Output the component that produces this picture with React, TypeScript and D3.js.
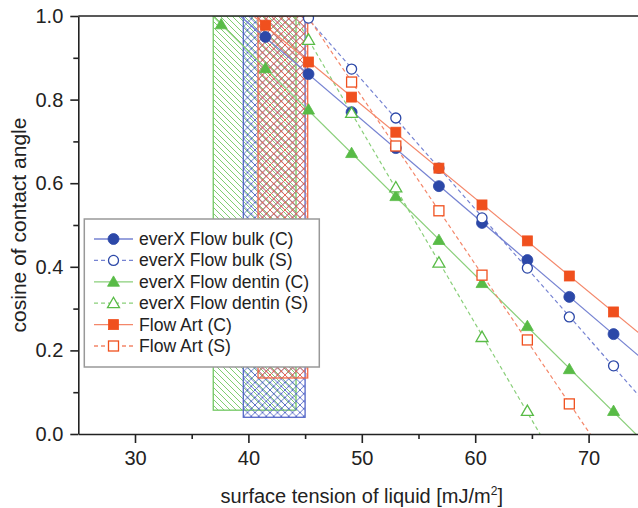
import React, { useRef, useEffect } from 'react';
import * as d3 from 'd3';

// surface tension of the test liquids (x positions of the points)
const X_VALUES = [37.6, 41.5, 45.3, 49.1, 53.0, 56.8, 60.6, 64.6, 68.3, 72.2];

// cosine values, null where no point is shown
const BULK_C = [null, 0.95, 0.861, 0.77, 0.684, 0.593, 0.505, 0.416, 0.328, 0.239];
const BULK_S = [null, null, 0.995, 0.873, 0.756, 0.636, 0.517, 0.397, 0.28, 0.163];
const DENTIN_C = [0.98, 0.875, 0.776, 0.672, 0.569, 0.464, 0.361, 0.258, 0.155, 0.055];
const DENTIN_S = [null, null, 0.943, 0.768, 0.59, 0.41, 0.232, 0.055, null, null];
const ART_C = [null, 0.978, 0.89, 0.806, 0.722, 0.636, 0.548, 0.462, 0.378, 0.292];
const ART_S = [null, null, null, 0.842, 0.689, 0.534, 0.38, 0.225, 0.072, null];

// hatched critical surface tension bands: dentin, bulk, art
const BAND_NAMES = ["dentin", "bulk", "art"];
const BAND_X0 = [36.9, 39.55, 40.85];
const BAND_X1 = [44.2, 45.0, 45.23];
const BAND_BOTTOM = [0.057, 0.04, 0.134];

const X_TICKS = [30, 40, 50, 60, 70];
const X_MINOR = [35, 45, 55, 65];
const Y_TICKS = [0, 0.2, 0.4, 0.6, 0.8, 1.0];
const Y_MINOR = [0.1, 0.3, 0.5, 0.7, 0.9];

const LEGEND_LABELS = [
    "everX Flow bulk (C)",
    "everX Flow bulk (S)",
    "everX Flow dentin (C)",
    "everX Flow dentin (S)",
    "Flow Art (C)",
    "Flow Art (S)"
];

const COLORS = {
    bulk: { mark: "#2c48a8", line: "#7683d2", hatch: "#5467c8" },
    dentin: { mark: "#58bb46", line: "#8acf7a", hatch: "#72c862" },
    art: { mark: "#f0501e", line: "#f4876a", hatch: "#f26a48" }
};

const SERIES = [
    { values: BULK_C, key: "bulk", shape: "circle", filled: true },
    { values: BULK_S, key: "bulk", shape: "circle", filled: false },
    { values: DENTIN_C, key: "dentin", shape: "triangle", filled: true },
    { values: DENTIN_S, key: "dentin", shape: "triangle", filled: false },
    { values: ART_C, key: "art", shape: "square", filled: true },
    { values: ART_S, key: "art", shape: "square", filled: false }
];

const FONT = '"Liberation Sans", Arial, sans-serif';

function linearFit(pts) {
    const mx = d3.mean(pts, d => d[0]);
    const my = d3.mean(pts, d => d[1]);
    const sxy = d3.sum(pts, d => (d[0] - mx) * (d[1] - my));
    const sxx = d3.sum(pts, d => (d[0] - mx) * (d[0] - mx));
    const slope = sxy / sxx;
    return { slope, intercept: my - slope * mx };
}

function App() {
    const svgRef = useRef(null);
    const width = 638;
    const height = 508;
    const margin = { top: 16, left: 78.3, bottom: 74 };
    const plotRight = 78.3 + 50 * 11.34;

    useEffect(() => {
        const svg = d3.select(svgRef.current);
        svg.selectAll("*").remove();

        const x = d3.scaleLinear().domain([25, 75]).range([margin.left, plotRight]);
        const y = d3.scaleLinear().domain([0, 1]).range([height - margin.bottom, margin.top]);

        const defs = svg.append("defs");
        defs.append("clipPath").attr("id", "plot-clip")
            .append("rect")
            .attr("x", x(25)).attr("y", y(1))
            .attr("width", x(75) - x(25)).attr("height", y(0) - y(1));

        // hatch patterns
        const hatch = (id, color, cross, s) => {
            const p = defs.append("pattern").attr("id", id)
                .attr("patternUnits", "userSpaceOnUse")
                .attr("width", s).attr("height", s);
            p.append("path").attr("d", `M0,0L${s},${s}M-1,${s - 1}L1,${s + 1}M${s - 1},-1L${s + 1},1`)
                .attr("stroke", color).attr("stroke-width", 0.9);
            if (cross) {
                p.append("path").attr("d", `M0,${s}L${s},0M-1,1L1,-1M${s - 1},${s + 1}L${s + 1},${s - 1}`)
                    .attr("stroke", color).attr("stroke-width", 0.9);
            }
        };
        hatch("hatch-dentin", COLORS.dentin.hatch, false, 6);
        hatch("hatch-bulk", COLORS.bulk.hatch, true, 7.5);
        hatch("hatch-art", COLORS.art.hatch, true, 7.5);

        const plot = svg.append("g").attr("clip-path", "url(#plot-clip)");

        BAND_NAMES.forEach((name, i) => {
            plot.append("rect")
                .attr("x", x(BAND_X0[i]))
                .attr("y", y(1))
                .attr("width", x(BAND_X1[i]) - x(BAND_X0[i]))
                .attr("height", y(BAND_BOTTOM[i]) - y(1))
                .attr("fill", `url(#hatch-${name})`)
                .attr("stroke", COLORS[name].hatch)
                .attr("stroke-width", 1.3);
        });

        // fitted lines
        SERIES.forEach(s => {
            const pts = X_VALUES.map((xv, i) => [xv, s.values[i]]).filter(d => d[1] !== null);
            const fit = linearFit(pts);
            const x0 = (1 - fit.intercept) / fit.slope;
            const x1 = 76;
            plot.append("line")
                .attr("x1", x(x0)).attr("y1", y(fit.slope * x0 + fit.intercept))
                .attr("x2", x(x1)).attr("y2", y(fit.slope * x1 + fit.intercept))
                .attr("stroke", COLORS[s.key].line)
                .attr("stroke-width", 1.2)
                .attr("stroke-dasharray", s.filled ? null : "4,3");
        });

        const drawMarker = (g, s, cx, cy) => {
            const c = COLORS[s.key].mark;
            const fill = s.filled ? c : "white";
            let el;
            if (s.shape === "circle") {
                el = g.append("circle").attr("cx", cx).attr("cy", cy).attr("r", s.filled ? 5.5 : 5);
            } else if (s.shape === "triangle") {
                el = g.append("path").attr("d", d3.symbol(d3.symbolTriangle, 62)()).attr("transform", `translate(${cx},${cy + 1})`);
            } else {
                el = g.append("rect").attr("x", cx - 5).attr("y", cy - 5).attr("width", 10).attr("height", 10);
            }
            el.attr("fill", fill).attr("stroke", c).attr("stroke-width", s.filled ? 0.8 : 1.3);
        };

        SERIES.forEach(s => {
            X_VALUES.forEach((xv, i) => {
                if (s.values[i] === null) return;
                drawMarker(plot, s, x(xv), y(s.values[i]));
            });
        });

        // axes
        const axisColor = "#222";
        const xAxis = svg.append("g").attr("transform", `translate(0,${y(0)})`)
            .call(d3.axisBottom(x).tickValues(X_TICKS).tickSize(9).tickPadding(8).tickSizeOuter(0));
        svg.append("g").attr("transform", `translate(0,${y(0)})`)
            .call(d3.axisBottom(x).tickValues(X_MINOR).tickSize(5).tickFormat(() => "").tickSizeOuter(0))
            .select(".domain").remove();
        const yAxis = svg.append("g").attr("transform", `translate(${x(25)},0)`)
            .call(d3.axisLeft(y).tickValues(Y_TICKS).tickSize(8).tickPadding(7).tickSizeOuter(0).tickFormat(d3.format(".1f")));
        svg.append("g").attr("transform", `translate(${x(25)},0)`)
            .call(d3.axisLeft(y).tickValues(Y_MINOR).tickSize(5).tickFormat(() => "").tickSizeOuter(0))
            .select(".domain").remove();
        svg.append("line")
            .attr("x1", x(25)).attr("x2", x(75)).attr("y1", y(1)).attr("y2", y(1))
            .attr("stroke", axisColor).attr("stroke-width", 1.6);

        svg.selectAll(".tick line, .domain").attr("stroke", axisColor).attr("stroke-width", 1.6);
        [xAxis, yAxis].forEach(a => a.selectAll("text")
            .attr("font-family", FONT).attr("font-size", 20).attr("fill", "#222"));

        svg.append("text")
            .attr("x", x(50)).attr("y", 503)
            .attr("text-anchor", "middle")
            .attr("font-family", FONT).attr("font-size", 20).attr("fill", "#222")
            .text("surface tension of liquid [mJ/m")
            .append("tspan").attr("dy", -8).attr("font-size", 12).text("2")
            .select(function () { return this.parentNode; })
            .append("tspan").attr("dy", 8).text("]");

        svg.append("text")
            .attr("transform", `translate(26,${(y(0) + y(1)) / 2}) rotate(-90)`)
            .attr("text-anchor", "middle")
            .attr("font-family", FONT).attr("font-size", 21).attr("fill", "#222")
            .text("cosine of contact angle");

        // legend
        const legend = svg.append("g");
        legend.append("rect")
            .attr("x", 84.3).attr("y", 219).attr("width", 235).attr("height", 148)
            .attr("fill", "white").attr("stroke", "#999").attr("stroke-width", 1.5);
        SERIES.forEach((s, i) => {
            const ly = 239 + i * 21.4;
            legend.append("line")
                .attr("x1", 94).attr("x2", 133).attr("y1", ly).attr("y2", ly)
                .attr("stroke", COLORS[s.key].line).attr("stroke-width", 1.3)
                .attr("stroke-dasharray", s.filled ? null : "4,3");
            drawMarker(legend, s, 113.5, ly);
            legend.append("text")
                .attr("x", 139).attr("y", ly + 6)
                .attr("font-family", FONT).attr("font-size", 17.6).attr("fill", "#222")
                .text(LEGEND_LABELS[i]);
        });
    }, []);

    return (
        <div style={{ position: "absolute", left: 0, top: 0 }}>
            <svg ref={svgRef} width={width} height={height} style={{ display: "block", background: "white" }} />
        </div>
    );
}

export default App;
